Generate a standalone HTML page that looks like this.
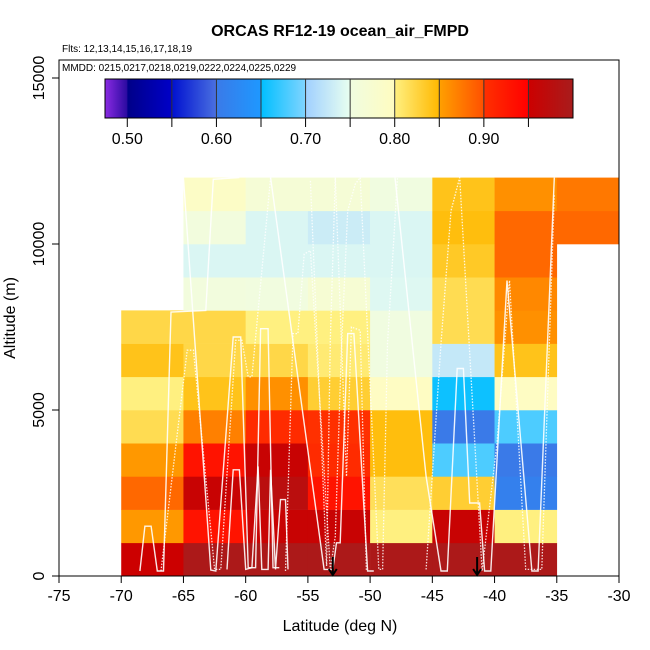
<!DOCTYPE html>
<html><head><meta charset="utf-8"><style>
html,body{margin:0;padding:0;background:#fff;}
svg{display:block;font-family:"Liberation Sans",sans-serif;}
</style></head><body>
<svg id="chart" width="650" height="650" viewBox="0 0 650 650">
<text x="340" y="36" text-anchor="middle" font-size="16" font-weight="bold">ORCAS RF12-19 ocean_air_FMPD</text>
<text x="62" y="52" font-size="10">Flts: 12,13,14,15,16,17,18,19</text>
<g id="cells"></g>
<g id="tracks"></g>
<g id="arrows"></g>
<rect x="59" y="60" width="560" height="516" fill="none" stroke="#000" stroke-width="1"/>
<text x="62" y="71" font-size="10">MMDD: 0215,0217,0218,0219,0222,0224,0225,0229</text>
<g id="cbar"></g>
<g id="xaxis"></g>
<g id="yaxis"></g>
<text x="340" y="631" text-anchor="middle" font-size="16">Latitude (deg N)</text>
<text transform="translate(15,318) rotate(-90)" text-anchor="middle" font-size="16">Altitude (m)</text>
</svg>
<script>
const latEdges=[-70,-65,-60,-55,-50,-45,-40,-35];
const altRows=[0,1000,2000,3000,4000,5000,6000,7000,8000,9000,10000,11000];
// values[row][col], null = no data
const values=[
[0.95,0.995,0.995,0.995,0.995,0.995,0.995,null],
[0.855,0.93,0.955,0.955,0.80,0.955,0.80,null],
[0.885,0.955,0.975,0.93,0.815,0.83,0.61,null],
[0.855,0.93,0.955,0.905,0.845,0.68,0.60,null],
[0.818,0.87,0.905,0.90,0.845,0.60,0.68,null],
[0.80,0.84,0.86,0.83,0.795,0.655,0.795,null],
[0.84,0.822,0.822,0.805,0.75,0.725,0.84,null],
[0.822,0.822,0.80,0.80,0.75,0.818,0.86,null],
[null,0.755,0.752,0.77,0.743,0.818,0.865,null],
[null,0.74,0.74,0.74,0.74,0.835,0.885,null],
[null,0.755,0.74,0.73,0.74,0.845,0.885,0.885],
[null,0.79,0.765,0.765,0.75,0.84,0.86,0.875]
];
const cbTicks=[0.50,0.60,0.70,0.80,0.90];
const xTicks=[-75,-70,-65,-60,-55,-50,-45,-40,-35,-30];
const yTicks=[0,5000,10000,15000];
const arrowLats=[-53,-41.4];
const tracksSolid=[
[[-68.5,150],[-68.1,1500],[-67.6,1500],[-67.1,150],[-66.6,150],[-66.0,7950],[-63.2,8000],[-62.6,11950],[-60.5,12000]],
[[-65.0,12000],[-62.8,180],[-62.4,150],[-61.0,7200],[-60.4,7200],[-59.8,250],[-59.2,250],[-58.8,7450],[-58.2,7450],[-57.8,250],[-57.3,250]],
[[-61.5,200],[-61.0,3200],[-60.5,3200],[-60.0,200],[-59.5,250],[-59.0,3300],[-58.7,200],[-58.2,200],[-58.0,3200],[-57.6,200],[-57.2,2300],[-56.8,2300],[-56.6,200]],
[[-58.0,12000],[-53.7,200],[-53.0,200],[-52.7,1000],[-52.4,1000],[-51.8,7300],[-51.3,7300],[-50.2,150],[-49.7,150]],
[[-48.0,12000],[-45.5,3000],[-44.3,150],[-43.8,150],[-43.0,6250],[-42.5,6250],[-42,2200],[-41.2,2200],[-40.8,150],[-40.3,150],[-39.0,8900],[-37.0,150],[-36.5,150],[-35.2,12000]]
];
const tracksDotted=[
[[-66.8,150],[-64.7,6800],[-64.2,6800],[-62.5,200],[-62.0,200],[-60.8,7100],[-60.3,7100],[-59.8,6000],[-59.5,6000],[-58.0,12000]],
[[-56.8,150],[-56.2,7300],[-55.8,7300],[-55.3,9700],[-54.8,9800],[-53.2,200],[-52.8,1200],[-52.3,6900],[-51.8,11000],[-51.2,11800],[-50.8,12000],[-49.3,200],[-49.0,200],[-48.6,7000],[-47.8,12000]],
[[-54.8,11900],[-53.5,300],[-53.2,7100],[-52.8,12000],[-51.9,3000],[-51.5,7500],[-50.8,7400],[-50.3,150]],
[[-45.5,200],[-44.3,7000],[-43.5,11000],[-42.8,12000],[-41.0,150],[-39.8,4000],[-38.8,8900],[-37.5,200],[-36.2,200],[-35.2,11500]]
];
const NS='http://www.w3.org/2000/svg';
const X=v=>59+(v+75)*(560/45);
const Y=v=>576-v*(498/15000);
const CBX=v=>105+(v-0.475)*(468/0.525);
const segs=[[0.475,'#8a2be2','#2a0aa0'],[0.5,'#000088','#0000c8'],[0.55,'#0010d0','#4a70e0'],[0.6,'#3a7ae8','#1e98ff'],[0.65,'#00bfff','#80d4ff'],[0.7,'#a0d0ff','#e8fff0'],[0.75,'#f0fce0','#fffcc0'],[0.8,'#fff080','#ffb800'],[0.85,'#ffa000','#ff5000'],[0.9,'#ff3000','#ff0000'],[0.95,'#cc0000','#a81c1c']];
function hex(h){return [1,3,5].map(i=>parseInt(h.substr(i,2),16));}
function col(v){let s=segs[0];for(const g of segs){if(v>=g[0])s=g;}
 const hi=s[0]===0.475?0.5:s[0]+0.05;const t=Math.max(0,Math.min(1,(v-s[0])/(hi-s[0])));
 const a=hex(s[1]),b=hex(s[2]);return 'rgb('+a.map((c,i)=>Math.round(c+(b[i]-c)*t)).join(',')+')';}
function mk(tag,attrs,parent){const e=document.createElementNS(NS,tag);for(const k in attrs)e.setAttribute(k,attrs[k]);parent.appendChild(e);return e;}
const cells=document.getElementById('cells');
values.forEach((row,r)=>row.forEach((v,c)=>{if(v===null)return;
 const x0=X(latEdges[c]),x1=X(latEdges[c]+5),y0=Y(altRows[r]+1000),y1=Y(altRows[r]);
 const e=mk('rect',{x:x0,y:y0,width:x1-x0+0.3,height:y1-y0+0.3,fill:col(v)},cells);
 
 
}));
const tg=document.getElementById('tracks');
const pts=t=>t.map(p=>X(p[0]).toFixed(1)+','+Y(p[1]).toFixed(1)).join(' ');
tracksSolid.forEach(t=>{const e=mk('polyline',{points:pts(t),fill:'none',stroke:'#fff','stroke-width':1.4,opacity:0.9},tg);
 
 });
tracksDotted.forEach(t=>{const e=mk('polyline',{points:pts(t),fill:'none',stroke:'#fff','stroke-width':1.3,'stroke-dasharray':'1.5 1.5',opacity:0.85},tg);
 
 });
const ag=document.getElementById('arrows');
arrowLats.forEach(l=>{const x=X(l);
 const e=mk('path',{d:`M${x},557 L${x},575 M${x-4},569 L${x},575 L${x+4},569`,stroke:'#000','stroke-width':2,fill:'none'},ag);
 
 });
// colorbar
const cb=document.getElementById('cbar');
const defs=mk('defs',{},cb);
const lg=mk('linearGradient',{id:'cbg',x1:0,x2:1,y1:0,y2:0},defs);
segs.forEach(s=>{const hi=s[0]===0.475?0.5:s[0]+0.05;
 mk('stop',{offset:((s[0]-0.475)/0.525),'stop-color':s[1]},lg);
 mk('stop',{offset:((hi-0.475)/0.525-0.0001),'stop-color':s[2]},lg);});
mk('rect',{x:105,y:79,width:468,height:39,fill:'url(#cbg)',stroke:'#000','stroke-width':1},cb);
for(let v=0.55;v<0.99;v+=0.05){mk('line',{x1:CBX(v),x2:CBX(v),y1:79,y2:118,stroke:'#333','stroke-width':1},cb);}
for(let v=0.5;v<0.99;v+=0.05){mk('line',{x1:CBX(v),x2:CBX(v),y1:118,y2:127,stroke:'#000','stroke-width':1},cb);}
cbTicks.forEach(v=>{const e=mk('text',{x:CBX(v),y:144,'text-anchor':'middle','font-size':16},cb);e.textContent=v.toFixed(2);
 
 });
// axes
const xa=document.getElementById('xaxis');
mk('line',{x1:X(-75),x2:X(-30),y1:576,y2:576,stroke:'#000'},xa);
xTicks.forEach(v=>{mk('line',{x1:X(v),x2:X(v),y1:576,y2:583,stroke:'#000'},xa);
 const e=mk('text',{x:X(v),y:601,'text-anchor':'middle','font-size':16},xa);e.textContent=String(v);
 
 });
const ya=document.getElementById('yaxis');
mk('line',{x1:59,x2:59,y1:Y(0),y2:Y(15000),stroke:'#000'},ya);
yTicks.forEach(v=>{mk('line',{x1:52,x2:59,y1:Y(v),y2:Y(v),stroke:'#000'},ya);
 const e=mk('text',{transform:`translate(44,${Y(v)}) rotate(-90)`,'text-anchor':'middle','font-size':16},ya);e.textContent=String(v);
 
 });
</script>
</body></html>
